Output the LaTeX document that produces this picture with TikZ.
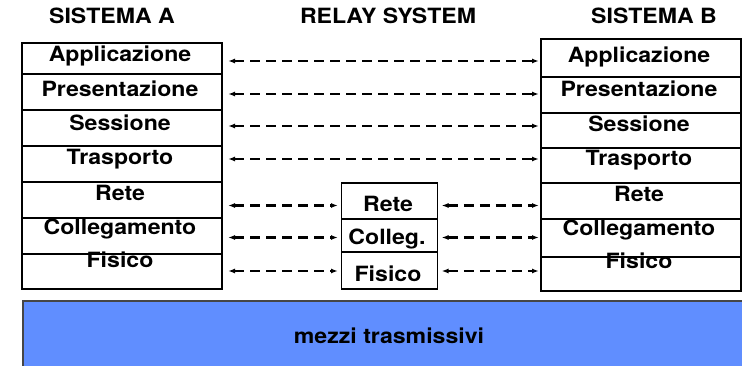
\documentclass[tikz,border=0pt]{standalone}
\usepackage{fontspec}
\setmainfont{TeX Gyre Heros}
\usepackage{graphicx}
\usetikzlibrary{arrows.meta}
\definecolor{mezzi}{RGB}{96,142,255}
\definecolor{bordo}{RGB}{70,70,70}
\newcommand{\tx}[1]{\scalebox{1.1}[1]{#1}}
\begin{document}
\begin{tikzpicture}[x=1pt,y=-1pt,
  row/.style={draw, line width=1.4pt, inner sep=0pt, outer sep=0pt},
  rowA/.style={row, minimum width=200pt},
  rowM/.style={row, minimum width=96pt},
  lbl/.style={anchor=base, inner sep=0pt, font=\bfseries\fontsize{21}{21}\selectfont},
  arr/.style={{Latex[length=7pt,width=5pt]}-{Latex[length=7pt,width=5pt]}, line width=2.4pt, dash pattern=on 10pt off 6pt}]
\useasboundingbox (0,0) rectangle (742,366);
\clip (0,0) rectangle (742,366);
% headers
\node[lbl] (hA) at (112,24) {\tx{SISTEMA A}};
\node[lbl] (hR) at (388,24) {\tx{RELAY SYSTEM}};
\node[lbl] (hB) at (654,24) {\tx{SISTEMA B}};
% sistema A
\node[rowA, minimum height=31pt] (la1) at (122,58.5) {};
\node[rowA, minimum height=36pt] (la2) at (122,92) {};
\node[rowA, minimum height=36pt] (la3) at (122,128) {};
\node[rowA, minimum height=36pt] (la4) at (122,164) {};
\node[rowA, minimum height=36pt] (la5) at (122,200) {};
\node[rowA, minimum height=36pt] (la6) at (122,236) {};
\node[rowA, minimum height=35pt] (la7) at (122,271.5) {};
\node[lbl] (ta1) at (120,62) {\tx{Applicazione}};
\node[lbl] (ta2) at (120,97) {\tx{Presentazione}};
\node[lbl] (ta3) at (120,131) {\tx{Sessione}};
\node[lbl] (ta4) at (120,164.5) {\tx{Trasporto}};
\node[lbl] (ta5) at (120,201) {\tx{Rete}};
\node[lbl] (ta6) at (120,234.5) {\tx{Collegamento}};
\node[lbl] (ta7) at (120,267.5) {\tx{Fisico}};
% sistema B
\node[rowA, minimum height=38pt] (rb1) at (641,58) {};
\node[rowA, minimum height=36pt] (rb2) at (641,95) {};
\node[rowA, minimum height=35pt] (rb3) at (641,130.5) {};
\node[rowA, minimum height=35pt] (rb4) at (641,165.5) {};
\node[rowA, minimum height=36pt] (rb5) at (641,201) {};
\node[rowA, minimum height=38pt] (rb6) at (641,238) {};
\node[rowA, minimum height=34pt] (rb7) at (641,274) {};
\node[lbl] (tb1) at (639,62.5) {\tx{Applicazione}};
\node[lbl] (tb2) at (639,97) {\tx{Presentazione}};
\node[lbl] (tb3) at (639,131.5) {\tx{Sessione}};
\node[lbl] (tb4) at (639,166) {\tx{Trasporto}};
\node[lbl] (tb5) at (639,201.5) {\tx{Rete}};
\node[lbl] (tb6) at (639,235.5) {\tx{Collegamento}};
\node[lbl] (tb7) at (639,269) {\tx{Fisico}};
% relay
\node[rowM, minimum height=36pt] (m1) at (389.5,201) {};
\node[rowM, minimum height=33pt] (m2) at (389.5,235.5) {};
\node[rowM, minimum height=37pt] (m3) at (389.5,270.5) {};
\node[lbl] (tm1) at (388,212) {\tx{Rete}};
\node[lbl] (tm2) at (387,245) {\tx{Colleg.}};
\node[lbl] (tm3) at (388,281.5) {\tx{Fisico}};
% peer arrows
\draw[arr, shorten <=6pt, shorten >=2pt] (la1.east |- 0,61) -- (rb1.west |- 0,61);
\draw[arr, shorten <=6pt, shorten >=2pt] (la2.east |- 0,94) -- (rb2.west |- 0,94);
\draw[arr, shorten <=6pt, shorten >=2pt] (la3.east |- 0,126) -- (rb3.west |- 0,126);
\draw[arr, shorten <=6pt, shorten >=2pt] (la4.east |- 0,159) -- (rb4.west |- 0,159);
\draw[arr, shorten <=6pt, shorten >=3.5pt] (la5.east |- 0,205.5) -- (m1.west |- 0,205.5);
\draw[arr, shorten <=6pt, shorten >=3.5pt] (la6.east |- 0,237.5) -- (m2.west |- 0,237.5);
\draw[arr, shorten <=6pt, shorten >=3.5pt] (la7.east |- 0,271) -- (m3.west |- 0,271);
\draw[arr, shorten <=4pt, shorten >=2pt] (m1.east |- 0,205.5) -- (rb5.west |- 0,205.5);
\draw[arr, shorten <=4pt, shorten >=2pt] (m2.east |- 0,237.5) -- (rb6.west |- 0,237.5);
\draw[arr, shorten <=4pt, shorten >=2pt] (m3.east |- 0,271) -- (rb7.west |- 0,271);
% mezzi trasmissivi
\node[draw=bordo, fill=mezzi, line width=1.5pt, minimum width=740pt, minimum height=80pt, inner sep=0pt, anchor=north west] (mz) at (22,300) {};
\node[lbl] (tmz) at (389,343) {\tx{mezzi trasmissivi}};
\end{tikzpicture}
\end{document}
